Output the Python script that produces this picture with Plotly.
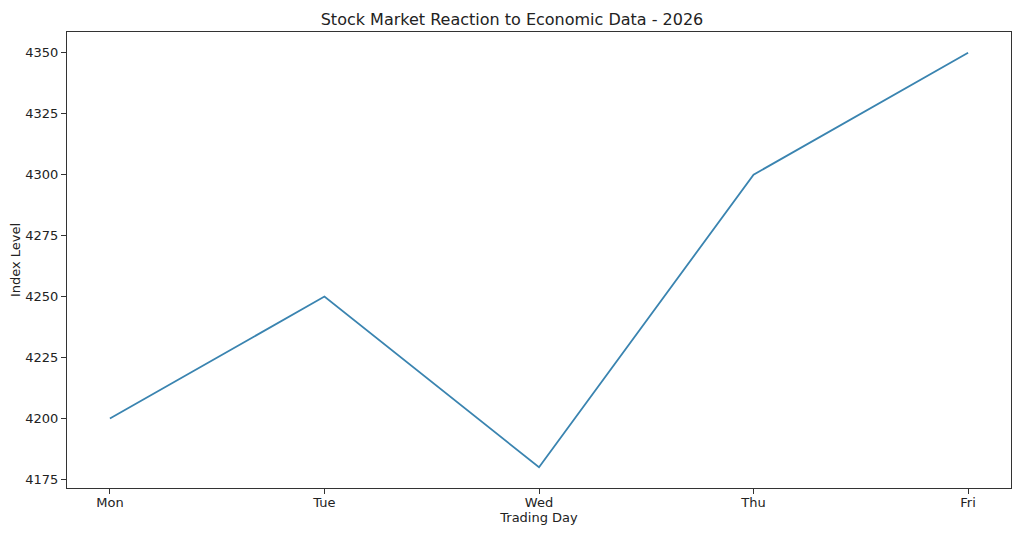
import plotly.graph_objects as go

days = ["Mon", "Tue", "Wed", "Thu", "Fri"]
index_level = [4200, 4250, 4180, 4300, 4350]
y_ticks = [4175, 4200, 4225, 4250, 4275, 4300, 4325, 4350]

fig = go.Figure()
fig.add_trace(go.Scatter(
    x=list(range(len(days))), y=index_level, mode="lines",
    line=dict(color="#3a84b0", width=1.8),
))

axis_common = dict(
    showgrid=False, zeroline=False, showline=True, mirror=True,
    linecolor="#333333", linewidth=1, ticks="outside", ticklen=5,
    tickcolor="#333333", automargin=False,
    tickfont=dict(family="DejaVu Sans", size=13, color="#222222"),
)

fig.update_layout(
    width=1024, height=538,
    margin=dict(l=67, r=13, t=32, b=50),
    paper_bgcolor="white", plot_bgcolor="white",
    showlegend=False,
    title=dict(text="Stock Market Reaction to Economic Data - 2026",
               x=0.5, xanchor="center", y=1 - 19/538, yanchor="middle",
               font=dict(family="DejaVu Sans", size=16, color="#222222")),
    font=dict(family="DejaVu Sans", size=13, color="#222222"),
)
fig.update_xaxes(
    range=[-0.2, 4.2], tickmode="array",
    tickvals=list(range(len(days))), ticktext=days,
    ticklabelstandoff=-3,
    title=dict(text="Trading Day", font=dict(size=13), standoff=4),
    **axis_common,
)
fig.update_yaxes(
    range=[4171.5, 4358.5], tickmode="array", tickvals=y_ticks,
    title=dict(text="Index Level", font=dict(size=13), standoff=1),
    **axis_common,
)

fig.write_html("out.html")
